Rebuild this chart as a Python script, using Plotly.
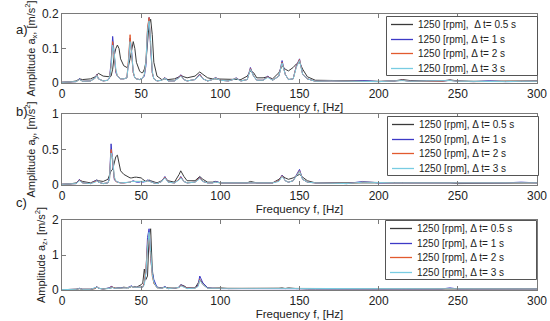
import plotly.graph_objects as go

# ---------------- data ----------------
freq = [0, 5, 9, 11, 13, 18, 21, 22, 23, 26, 29, 30, 31, 32, 33, 34, 35, 36, 37, 39,
        41, 42, 43, 44, 45, 46, 47, 49, 50, 51, 52, 53, 54, 55, 56, 57, 58, 60, 63, 65,
        67, 71, 74, 75, 77, 79, 84, 86, 87, 89, 92, 95, 97, 100, 105, 108, 110, 113, 117, 119,
        121, 123, 127, 130, 133, 137, 139, 141, 143, 146, 148, 150, 152, 155, 160, 170, 180, 190, 200, 210,
        215, 220, 230, 240, 245, 250, 260, 270, 280, 290, 300]

series_names_a = ["1250 [rpm],\u00a0\u00a0Δ t= 0.5 s", "1250 [rpm], Δ t= 1 s",
                  "1250 [rpm], Δ t= 2 s", "1250 [rpm], Δ t= 3 s"]
series_names = ["1250 [rpm], Δ t= 0.5 s", "1250 [rpm], Δ t= 1 s",
                "1250 [rpm], Δ t= 2 s", "1250 [rpm], Δ t= 3 s"]

# panel a) amplitude a_x [m/s^2]
ax_05 = [.002, .003, .006, .012, .010, .012, .018, .024, .028, .020, .018, .018, .020, .040, .080, .100, .110, .100, .070, .050,
         .045, .050, .070, .100, .120, .100, .060, .035, .030, .030, .040, .060, .130, .170, .185, .140, .060, .020, .010, .012,
         .010, .012, .018, .022, .018, .015, .020, .028, .032, .025, .015, .012, .012, .010, .010, .012, .012, .010, .020, .035,
         .030, .015, .015, .018, .012, .030, .050, .040, .035, .045, .055, .060, .040, .018, .008, .008, .006, .006, .005, .006,
         .010, .007, .006, .006, .009, .006, .005, .005, .005, .006, .006]
ax_1 = [.002, .002, .004, .012, .005, .006, .015, .025, .012, .006, .008, .015, .060, .135, .080, .030, .020, .015, .012, .012,
        .015, .060, .130, .090, .030, .015, .012, .010, .012, .015, .020, .050, .150, .190, .100, .030, .012, .006, .008, .016,
        .006, .006, .018, .024, .010, .006, .010, .022, .026, .012, .006, .010, .016, .008, .006, .010, .015, .006, .010, .045,
        .020, .008, .008, .020, .008, .020, .065, .025, .010, .012, .050, .070, .025, .012, .005, .006, .005, .007, .004, .006,
        .008, .005, .006, .005, .008, .005, .004, .006, .004, .005, .005]
ax_2 = [.002, .002, .004, .010, .005, .006, .014, .024, .012, .006, .008, .014, .050, .120, .085, .035, .020, .015, .012, .012,
        .015, .070, .140, .080, .030, .015, .012, .010, .012, .015, .025, .060, .160, .190, .110, .030, .012, .006, .008, .015,
        .006, .006, .016, .022, .010, .006, .010, .020, .024, .012, .006, .010, .015, .008, .006, .010, .014, .006, .010, .042,
        .020, .008, .008, .018, .008, .020, .060, .025, .010, .012, .048, .068, .025, .012, .005, .006, .005, .006, .004, .006,
        .008, .005, .006, .005, .008, .005, .004, .005, .004, .005, .005]
ax_3 = [.002, .002, .004, .010, .005, .006, .014, .022, .012, .006, .008, .014, .045, .110, .085, .040, .020, .015, .012, .012,
        .015, .060, .120, .085, .035, .015, .012, .010, .012, .015, .025, .060, .150, .180, .120, .035, .012, .006, .008, .014,
        .006, .006, .015, .020, .010, .006, .010, .020, .022, .012, .006, .010, .014, .008, .006, .010, .013, .006, .010, .040,
        .020, .008, .008, .016, .008, .020, .058, .025, .010, .012, .045, .065, .025, .012, .005, .006, .005, .006, .004, .006,
        .007, .005, .006, .005, .007, .005, .004, .005, .004, .005, .005]

# panel b) amplitude a_y [m/s^2]
ay_05 = [.010, .015, .030, .070, .050, .030, .060, .070, .060, .050, .080, .150, .200, .220, .300, .400, .420, .320, .200, .150,
         .120, .110, .100, .100, .110, .110, .110, .100, .100, .080, .060, .050, .060, .070, .060, .050, .040, .030, .060, .100,
         .060, .040, .150, .200, .120, .060, .060, .100, .120, .080, .040, .040, .050, .030, .030, .030, .040, .030, .030, .050,
         .040, .030, .030, .030, .030, .080, .130, .100, .080, .100, .120, .150, .110, .060, .030, .030, .030, .040, .030, .030,
         .030, .030, .030, .030, .030, .020, .020, .030, .030, .030, .030]
ay_1 = [.010, .010, .020, .080, .030, .020, .050, .070, .040, .020, .030, .100, .580, .300, .080, .050, .040, .030, .030, .030,
        .030, .030, .040, .050, .060, .050, .040, .040, .050, .040, .040, .050, .070, .060, .040, .030, .030, .020, .050, .120,
        .040, .030, .080, .120, .050, .030, .040, .080, .110, .050, .030, .030, .050, .030, .030, .030, .040, .030, .030, .040,
        .030, .030, .030, .040, .030, .060, .140, .060, .040, .060, .150, .220, .080, .040, .030, .030, .020, .050, .030, .030,
        .030, .030, .020, .030, .030, .030, .020, .030, .030, .040, .030]
ay_2 = [.010, .010, .020, .070, .030, .020, .050, .060, .040, .020, .030, .080, .500, .350, .100, .050, .040, .030, .030, .030,
        .030, .030, .040, .050, .050, .050, .040, .040, .040, .040, .040, .050, .060, .050, .040, .030, .030, .020, .050, .110,
        .040, .030, .080, .110, .050, .030, .040, .080, .100, .050, .030, .030, .040, .030, .030, .030, .040, .030, .030, .040,
        .030, .030, .030, .040, .030, .060, .130, .060, .040, .060, .140, .200, .080, .040, .030, .030, .020, .040, .030, .030,
        .030, .030, .020, .030, .030, .030, .020, .030, .030, .030, .030]
ay_3 = [.010, .010, .020, .060, .030, .020, .040, .060, .040, .020, .030, .080, .450, .380, .120, .060, .040, .030, .030, .030,
        .030, .030, .040, .050, .050, .050, .040, .040, .040, .040, .040, .050, .060, .050, .040, .030, .030, .020, .050, .100,
        .040, .030, .070, .100, .050, .030, .040, .070, .090, .050, .030, .030, .040, .030, .030, .030, .040, .030, .030, .040,
        .030, .030, .030, .040, .030, .050, .120, .060, .040, .060, .130, .190, .080, .040, .030, .030, .020, .040, .030, .030,
        .030, .030, .020, .030, .030, .030, .020, .030, .030, .030, .030]

# panel c) amplitude a_z [m/s^2]
az_05 = [.010, .010, .020, .040, .020, .020, .040, .090, .050, .030, .040, .050, .060, .080, .060, .050, .060, .050, .060, .080,
         .070, .060, .080, .100, .080, .100, .080, .120, .150, .200, .600, .300, .400, 1.500, 1.750, .600, .200, .080, .060, .080,
         .060, .050, .080, .150, .120, .060, .060, .200, .300, .200, .060, .050, .060, .060, .040, .040, .040, .050, .040, .040,
         .040, .040, .040, .030, .040, .050, .060, .040, .060, .040, .040, .040, .030, .030, .030, .030, .040, .030, .030, .030,
         .030, .030, .030, .030, .050, .030, .030, .030, .030, .030, .030]
az_1 = [.010, .010, .020, .050, .020, .020, .060, .100, .050, .030, .040, .060, .110, .080, .050, .050, .050, .040, .060, .070,
        .060, .080, .100, .120, .080, .080, .060, .080, .060, .080, .200, .500, 1.500, 1.750, .900, .500, .300, .080, .050, .100,
        .040, .050, .080, .150, .100, .050, .050, .150, .400, .200, .060, .050, .050, .040, .040, .040, .040, .040, .030, .040,
        .030, .040, .030, .030, .040, .040, .050, .030, .040, .040, .030, .040, .030, .030, .030, .040, .030, .050, .030, .030,
        .030, .030, .030, .030, .060, .030, .030, .030, .030, .030, .030]
az_2 = [.010, .010, .020, .040, .020, .020, .050, .090, .050, .030, .040, .050, .090, .070, .050, .050, .050, .040, .050, .060,
        .060, .070, .090, .100, .080, .080, .060, .070, .060, .080, .200, .600, 1.300, 1.600, 1.000, .400, .200, .060, .050, .080,
        .040, .050, .070, .130, .090, .050, .050, .120, .300, .150, .050, .050, .050, .040, .040, .040, .040, .040, .030, .040,
        .030, .040, .030, .030, .040, .040, .050, .030, .040, .040, .030, .040, .030, .030, .030, .030, .030, .040, .030, .030,
        .030, .030, .030, .030, .050, .030, .030, .030, .030, .030, .030]
az_3 = [.010, .010, .020, .040, .020, .020, .050, .080, .050, .030, .040, .050, .080, .070, .050, .050, .050, .040, .050, .060,
        .060, .070, .090, .100, .080, .080, .060, .070, .060, .080, .150, .500, 1.200, 1.650, 1.100, .450, .220, .060, .050, .080,
        .040, .050, .070, .120, .090, .040, .050, .100, .280, .150, .050, .050, .050, .040, .040, .040, .040, .040, .030, .040,
        .030, .040, .030, .030, .040, .040, .050, .030, .040, .040, .030, .040, .030, .030, .030, .030, .030, .040, .030, .030,
        .030, .030, .030, .030, .050, .030, .030, .030, .030, .030, .030]

x_ticks = [0, 50, 100, 150, 200, 250, 300]
y_ticks_a = [0, 0.1, 0.2]
y_ticks_b = [0, 0.5, 1]
y_ticks_c = [0, 1, 2]

colors = ["#3a3a3a", "#3d3ac6", "#e25a2e", "#78cce2"]
panels = [
    ("a", [ax_05, ax_1, ax_2, ax_3], series_names_a, y_ticks_a, "x"),
    ("b", [ay_05, ay_1, ay_2, ay_3], series_names, y_ticks_b, "y"),
    ("c", [az_05, az_1, az_2, az_3], series_names, y_ticks_c, "z"),
]

# ---------------- figure ----------------
W, H = 550, 321
ml, mr, mt, mb = 62, 13, 14, 31
pw = W - ml - mr
ph = H - mt - mb
def px_x(px):
    return (px - ml) / pw
def px_y(py):
    return (H - mb - py) / ph

plot_boxes = [(14, 83), (114, 185), (220, 290)]          # top, bottom in px
legend_boxes = [(386, 16), (387, 116), (385, 220)]         # left, top in px
LEG_W, LEG_H, ROW = 151, 59, 14.5
label_pos = [20, 111, 212]

FONT = "Liberation Sans, Arial, sans-serif"
fig = go.Figure()
layout = dict(width=W, height=H, margin=dict(l=ml, r=mr, t=mt, b=mb, autoexpand=False),
              paper_bgcolor="white", plot_bgcolor="white",
              font=dict(family=FONT, size=12, color="#222"), showlegend=False)
annotations = []
shapes = []
for i, (lab, ys, names, yt, comp) in enumerate(panels):
    n = i + 1
    xa = "x" if n == 1 else f"x{n}"
    ya = "y" if n == 1 else f"y{n}"
    for k in range(4):
        fig.add_trace(go.Scatter(x=freq, y=ys[k], mode="lines", name=names[k],
                                 line=dict(color=colors[k], width=1),
                                 xaxis=xa, yaxis=ya))
    axis_common = dict(showline=True, linecolor="#7a7a7a", linewidth=1, mirror="ticks",
                       ticks="inside", ticklen=4, tickcolor="#7a7a7a",
                       showgrid=False, zeroline=False,
                       tickfont=dict(family=FONT, size=12, color="#222"))
    top, bot = plot_boxes[i]
    layout["xaxis" if n == 1 else f"xaxis{n}"] = dict(
        range=[0, 300], tickvals=x_ticks, anchor=ya, domain=[0, 1],
        title=dict(text="Frequency f, [Hz]", standoff=0,
                   font=dict(family=FONT, size=11.5)),
        **axis_common)
    layout["yaxis" if n == 1 else f"yaxis{n}"] = dict(
        range=[yt[0], yt[-1]], tickvals=yt, anchor=xa, domain=[px_y(bot), px_y(top)],
        title=dict(text=f"Amplitude a<sub>{comp}</sub>, [m/s<sup>2</sup>]", standoff=4,
                   font=dict(family=FONT, size=11)),
        **axis_common)
    # legend box (drawn as layout decoration)
    lx, ly = legend_boxes[i]
    shapes.append(dict(type="rect", xref="paper", yref="paper",
                       x0=px_x(lx + 0.5), x1=px_x(lx + LEG_W + 0.5),
                       y0=px_y(ly + LEG_H + 0.5), y1=px_y(ly + 0.5),
                       line=dict(color="#555", width=1), fillcolor="white", layer="above"))
    for k in range(4):
        ry = int(ly + 8.5 + ROW * k) + 0.5
        shapes.append(dict(type="line", xref="paper", yref="paper",
                           x0=px_x(lx + 5), x1=px_x(lx + 27), y0=px_y(ry), y1=px_y(ry),
                           line=dict(color=colors[k], width=1.3), layer="above"))
        annotations.append(dict(text=names[k], x=px_x(lx + 30), y=px_y(ry), xref="paper", yref="paper",
                                xanchor="left", yanchor="middle", showarrow=False,
                                font=dict(family=FONT, size=10, color="#222")))
    annotations.append(dict(text=f"{lab})", x=px_x(14), y=px_y(label_pos[i]), xref="paper", yref="paper",
                            showarrow=False, font=dict(family=FONT, size=13, color="#222")))
layout["annotations"] = annotations
layout["shapes"] = shapes
fig.update_layout(**layout)
fig.write_html("out.html", config={"displayModeBar": False},
               post_script="document.body.style.margin='0';document.body.style.padding='0';")
